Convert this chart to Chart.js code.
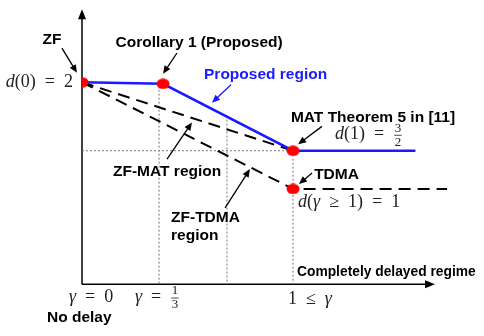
<!DOCTYPE html>
<html>
<head>
<meta charset="utf-8">
<script src="https://cdn.jsdelivr.net/npm/chart.js@4"></script>
<style>
  body { margin: 0; background: #fff; }
  canvas { display: block; }
</style>
</head>
<body>
<canvas id="regionChart" width="484" height="336"></canvas>
<script>
// schematic values (gamma on x, d on y)
const cornerGamma = [0, 0.384, 1, 1];
const cornerD = [2, 1.989, 1.5, 1.221];

const proposedGamma = [0, 0.384, 1, 1.58];
const proposedD = [2, 1.989, 1.5, 1.5];

const zfMatGamma = [0, 1];
const zfMatD = [2, 1.5];

const zfTdmaGamma = [0, 1, 1.73];
const zfTdmaD = [2, 1.221, 1.221];

const axisD = 0.525;      // where the gamma axis sits
const axisTopD = 2.533;   // tip of the d arrow
const axisEndGamma = 1.673;

// dotted guide lines: [gamma0, d0, gamma1, d1]
const guides = [
  [0, 1.5, 1, 1.5],
  [0.365, 1.946, 0.365, axisD],
  [0.687, 1.728, 0.687, axisD],
  [1, 1.5, 1, axisD]
];

const toXY = (xs, ys) => xs.map((x, i) => ({ x: x, y: ys[i] }));

// red dots are a bit wider than tall
const dot = document.createElement('canvas');
dot.width = 14; dot.height = 11;
const dctx = dot.getContext('2d');
dctx.fillStyle = '#ff0000';
dctx.beginPath();
dctx.ellipse(7, 5.5, 6.5, 5.2, 0, 0, Math.PI * 2);
dctx.fill();

const BOLD = 'bold 15.5px "Liberation Sans", Arial, sans-serif';
const SERIF = '"Liberation Serif", "DejaVu Serif", serif';
const SP = '\u2002';  // wide space around relations, like TeX

// labels in data units: [text, gamma, d, align, colour, font]
const labels = [
  ['ZF', -0.142, 2.312, 'center', '#000', BOLD],
  ['Corollary 1 (Proposed)', 0.555, 2.286, 'center', '#000', BOLD],
  ['Proposed region', 0.870, 2.058, 'center', '#1a1aff', BOLD],
  ['MAT Theorem 5 in [11]', 1.379, 1.739, 'center', '#000', BOLD],
  ['TDMA', 1.10, 1.322, 'left', '#000', BOLD],
  ['ZF-MAT region', 0.147, 1.344, 'left', '#000', BOLD],
  ['ZF-TDMA', 0.422, 1.007, 'left', '#000', BOLD],
  ['region', 0.422, 0.880, 'left', '#000', BOLD],
  ['Completely delayed regime', 1.019, 0.612, 'left', '#000', 'bold 13.8px "Liberation Sans", Arial, sans-serif'],
  ['No delay', -0.166, 0.279, 'left', '#000', BOLD]
];

// pointer arrows: [gamma0, d0, gamma1, d1, colour]
const pointers = [
  [-0.095, 2.25, -0.024, 2.069, '#000'],
  [0.450, 2.214, 0.384, 2.062, '#000'],
  [0.706, 1.982, 0.616, 1.851, '#1a1aff'],
  [1.137, 1.678, 1.024, 1.547, '#000'],
  [1.090, 1.337, 1.028, 1.257, '#000'],
  [0.403, 1.438, 0.521, 1.707, '#000'],
  [0.678, 1.083, 0.796, 1.366, '#000']
];

// math labels: runs of text, italic parts and fractions
const mathLabels = [
  { runs: [['d', 1], ['(0)' + SP + '=' + SP + '2']], g: -0.043, d: 2, align: 'right' },
  { runs: [['d', 1], ['(1)' + SP + '=' + SP], ['3', 'frac', '2']], g: 1.199, d: 1.62, align: 'left' },
  { runs: [['d', 1], ['('], ['\u03b3', 1], [SP + '\u2265' + SP + '1)' + SP + '=' + SP + '1']], g: 1.024, d: 1.12, align: 'left' },
  { runs: [['\u03b3', 1], [SP + '=' + SP + '0']], g: 0.043, d: 0.431, align: 'center' },
  { runs: [['\u03b3', 1], [SP + '=' + SP], ['1', 'frac', '3']], g: 0.251, d: 0.431, align: 'left' },
  { runs: [['1' + SP + '\u2264' + SP], ['\u03b3', 1]], g: 0.976, d: 0.417, align: 'left' }
];

function arrowHead(ctx, x0, y0, x1, y1, len, wid) {
  const a = Math.atan2(y1 - y0, x1 - x0);
  ctx.beginPath();
  ctx.moveTo(x1, y1);
  ctx.lineTo(x1 - len * Math.cos(a) + wid * Math.sin(a), y1 - len * Math.sin(a) - wid * Math.cos(a));
  ctx.lineTo(x1 - len * Math.cos(a) - wid * Math.sin(a), y1 - len * Math.sin(a) + wid * Math.cos(a));
  ctx.closePath();
  ctx.fill();
}

function runWidth(ctx, r) {
  if (r[1] === 'frac') {
    ctx.font = '13px ' + SERIF;
    return Math.max(ctx.measureText(r[0]).width, ctx.measureText(r[2]).width) + 3;
  }
  ctx.font = (r[1] ? 'italic ' : '') + '18px ' + SERIF;
  return ctx.measureText(r[0]).width;
}

function drawMath(ctx, m, px, py) {
  const total = m.runs.reduce((s, r) => s + runWidth(ctx, r), 0);
  let x = m.align === 'right' ? px - total : m.align === 'center' ? px - total / 2 : px;
  ctx.fillStyle = '#222';
  ctx.strokeStyle = '#222';
  ctx.textBaseline = 'middle';
  ctx.textAlign = 'left';
  m.runs.forEach(r => {
    const w = runWidth(ctx, r);
    if (r[1] === 'frac') {
      ctx.font = '13px ' + SERIF;
      ctx.textAlign = 'center';
      ctx.fillText(r[0], x + w / 2, py - 6);
      ctx.fillText(r[2], x + w / 2, py + 8);
      ctx.lineWidth = 0.8;
      ctx.beginPath();
      ctx.moveTo(x + 1, py + 1);
      ctx.lineTo(x + w - 1, py + 1);
      ctx.stroke();
      ctx.textAlign = 'left';
    } else {
      ctx.font = (r[1] ? 'italic ' : '') + '18px ' + SERIF;
      ctx.fillText(r[0], x, py);
    }
    x += w;
  });
}

const diagramPlugin = {
  id: 'diagram',
  beforeDatasetsDraw(chart) {
    const ctx = chart.ctx;
    const xs = chart.scales.x, ys = chart.scales.y;
    const x0 = xs.getPixelForValue(0), yAx = ys.getPixelForValue(axisD);
    ctx.save();
    ctx.strokeStyle = '#000';
    ctx.fillStyle = '#000';
    ctx.lineWidth = 1.5;
    // d axis
    const yTop = ys.getPixelForValue(axisTopD);
    ctx.beginPath();
    ctx.moveTo(x0, yAx);
    ctx.lineTo(x0, yTop + 6);
    ctx.stroke();
    arrowHead(ctx, x0, yAx, x0, yTop, 10, 4);
    // gamma axis
    const xEnd = xs.getPixelForValue(axisEndGamma);
    ctx.beginPath();
    ctx.moveTo(x0, yAx);
    ctx.lineTo(xEnd - 6, yAx);
    ctx.stroke();
    arrowHead(ctx, x0, yAx, xEnd, yAx, 10, 4);
    ctx.restore();
  },
  afterDraw(chart) {
    const ctx = chart.ctx;
    const xs = chart.scales.x, ys = chart.scales.y;
    const X = v => xs.getPixelForValue(v), Y = v => ys.getPixelForValue(v);
    ctx.save();
    pointers.forEach(p => {
      ctx.strokeStyle = p[4];
      ctx.fillStyle = p[4];
      ctx.lineWidth = 1.3;
      const ax = X(p[0]), ay = Y(p[1]), bx = X(p[2]), by = Y(p[3]);
      const a = Math.atan2(by - ay, bx - ax);
      ctx.beginPath();
      ctx.moveTo(ax, ay);
      ctx.lineTo(bx - 6 * Math.cos(a), by - 6 * Math.sin(a));
      ctx.stroke();
      arrowHead(ctx, ax, ay, bx, by, 8, 3.5);
    });
    labels.forEach(l => {
      ctx.font = l[5];
      ctx.fillStyle = l[4];
      ctx.textAlign = l[3];
      ctx.textBaseline = 'middle';
      ctx.fillText(l[0], X(l[1]), Y(l[2]));
    });
    mathLabels.forEach(m => drawMath(ctx, m, X(m.g), Y(m.d)));
    ctx.restore();
  }
};

const guideSets = guides.map(g => ({
  data: [{ x: g[0], y: g[1] }, { x: g[2], y: g[3] }],
  showLine: true,
  borderColor: '#777',
  borderWidth: 1,
  borderDash: [2, 2],
  pointRadius: 0,
  order: 5
}));

new Chart(document.getElementById('regionChart').getContext('2d'), {
  type: 'scatter',
  data: {
    datasets: [
      {
        data: toXY(cornerGamma, cornerD),
        pointStyle: dot,
        pointRadius: 6,
        order: 0
      },
      {
        data: toXY(proposedGamma, proposedD),
        showLine: true,
        borderColor: '#1a1aff',
        borderWidth: 2.5,
        pointRadius: 0,
        order: 1
      },
      {
        data: toXY(zfMatGamma, zfMatD),
        showLine: true,
        borderColor: '#000',
        borderWidth: 2,
        borderDash: [12, 7],
        pointRadius: 0,
        order: 2
      },
      {
        data: toXY(zfTdmaGamma, zfTdmaD),
        showLine: true,
        borderColor: '#000',
        borderWidth: 2,
        borderDash: [12, 7],
        pointRadius: 0,
        order: 2
      },
      ...guideSets
    ]
  },
  options: {
    responsive: false,
    animation: false,
    layout: { padding: { left: 82, right: 11.6, top: 4.6, bottom: 34.7 } },
    plugins: { legend: { display: false }, tooltip: { enabled: false } },
    scales: {
      x: { type: 'linear', min: 0, max: 1.85, display: false },
      y: { type: 'linear', min: 0.4, max: 2.55, display: false }
    }
  },
  plugins: [diagramPlugin]
});
</script>
</body>
</html>
